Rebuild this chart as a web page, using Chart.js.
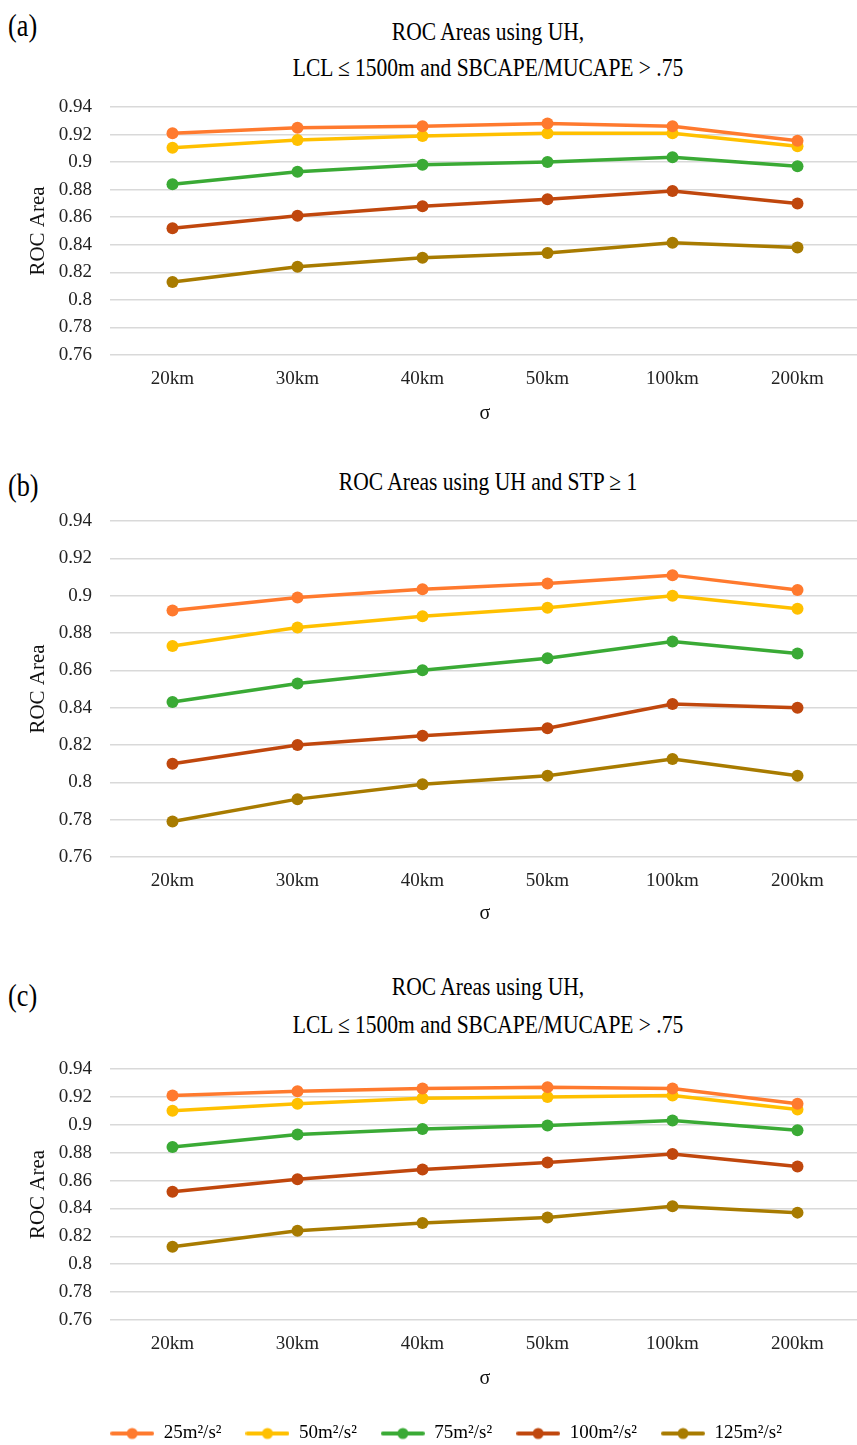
<!DOCTYPE html>
<html><head><meta charset="utf-8">
<script src="https://cdn.jsdelivr.net/npm/chart.js@4.4.1/dist/chart.umd.min.js"></script>
<style>
html,body{margin:0;padding:0;overflow:hidden;background:#fff;}
#page{position:relative;width:857px;height:1445px;overflow:hidden;font-family:'Liberation Serif','Times New Roman',serif;color:#000;}
.lab{position:absolute;left:8px;font-size:32px;line-height:36px;transform:scaleX(0.82);transform-origin:left center;}
.ttl{position:absolute;left:110px;width:756px;text-align:center;font-size:25px;transform:scaleX(0.86);transform-origin:center center;}
.box{position:absolute;left:26px;width:840px;}
</style></head><body><div id="page">
<div class="lab" style="top:7px">(a)</div>
<div class="ttl" style="top:14px;line-height:36px">ROC Areas using UH,<br>LCL ≤ 1500m and SBCAPE/MUCAPE &gt; .75</div>
<div class="box" style="top:87px;height:341px"><canvas id="ca"></canvas></div>
<div class="lab" style="top:467px">(b)</div>
<div class="ttl" style="top:464px;line-height:36px">ROC Areas using UH and STP ≥ 1</div>
<div class="box" style="top:501px;height:427px"><canvas id="cb"></canvas></div>
<div class="lab" style="top:977px">(c)</div>
<div class="ttl" style="top:968px;line-height:38px">ROC Areas using UH,<br>LCL ≤ 1500m and SBCAPE/MUCAPE &gt; .75</div>
<div class="box" style="top:1049px;height:404px"><canvas id="cc"></canvas></div>
</div>
<script>
const categories = ['20km','30km','40km','50km','100km','200km'];
const seriesNames = ['25m²/s²','50m²/s²','75m²/s²','100m²/s²','125m²/s²'];
const seriesColors = ['#FF7A2E','#FFC000','#3AAA35','#C0470D','#A87B00'];
const yTicksMin = 0.76, yTicksMax = 0.94, yTicksStep = 0.02;

// Panel (a)
const a25  = [0.921, 0.925, 0.926, 0.928, 0.926, 0.9155];
const a50  = [0.9105, 0.916, 0.919, 0.921, 0.921, 0.9115];
const a75  = [0.884, 0.893, 0.898, 0.900, 0.9035, 0.897];
const a100 = [0.852, 0.861, 0.868, 0.873, 0.879, 0.870];
const a125 = [0.813, 0.824, 0.8305, 0.834, 0.8415, 0.838];
// Panel (b)
const b25  = [0.892, 0.899, 0.9035, 0.9065, 0.911, 0.903];
const b50  = [0.873, 0.883, 0.889, 0.8935, 0.900, 0.893];
const b75  = [0.843, 0.853, 0.860, 0.8665, 0.8755, 0.869];
const b100 = [0.810, 0.820, 0.825, 0.829, 0.842, 0.840];
const b125 = [0.779, 0.791, 0.799, 0.8035, 0.8125, 0.8035];
// Panel (c)
const c25  = [0.921, 0.924, 0.926, 0.927, 0.926, 0.915];
const c50  = [0.910, 0.915, 0.919, 0.920, 0.921, 0.911];
const c75  = [0.884, 0.893, 0.897, 0.8995, 0.903, 0.896];
const c100 = [0.852, 0.861, 0.868, 0.873, 0.879, 0.870];
const c125 = [0.8125, 0.824, 0.8295, 0.8335, 0.8415, 0.837];

Chart.defaults.font.family = "'Liberation Serif','Times New Roman',serif";
Chart.defaults.color = '#222';

function legendIcon(color){
  const c = document.createElement('canvas');
  c.width = 44; c.height = 14;
  const x = c.getContext('2d');
  x.strokeStyle = color; x.lineWidth = 4; x.lineCap = 'round';
  x.beginPath(); x.moveTo(2,7); x.lineTo(42,7); x.stroke();
  x.fillStyle = color; x.beginPath(); x.arc(22,7,5.5,0,Math.PI*2); x.fill();
  return c;
}

function makeChart(id, series, cfg){
  const datasets = series.map((vals,i)=>({
    label: seriesNames[i],
    data: vals,
    borderColor: seriesColors[i],
    backgroundColor: seriesColors[i],
    borderWidth: 3.5,
    pointRadius: 6,
    pointBorderWidth: 0,
    pointBackgroundColor: seriesColors[i],
    tension: 0
  }));
  return new Chart(document.getElementById(id), {
    type: 'line',
    data: { labels: categories, datasets },
    options: {
      responsive: true, maintainAspectRatio: false, animation: false,
      devicePixelRatio: 1,
      layout: { padding: { top: 20, left: 0, right: 0, bottom: 0 } },
      plugins: {
        tooltip: { enabled: false },
        legend: cfg.legend ? {
          display: true, position: 'bottom',
          labels: {
            usePointStyle: true, pointStyleWidth: 44, padding: 24,
            color: '#111', font: { size: 19 },
            generateLabels: (chart) => chart.data.datasets.map((d,i)=>({
              text: d.label, pointStyle: legendIcon(seriesColors[i]),
              fillStyle: seriesColors[i], strokeStyle: seriesColors[i],
              lineWidth: 0, datasetIndex: i, hidden: false
            }))
          }
        } : { display: false }
      },
      scales: {
        x: {
          offset: true,
          grid: { display: false, drawTicks: false },
          border: { display: false },
          ticks: { padding: 13, color: '#222', font: { size: 19 } },
          title: { display: true, text: 'σ', color: '#111', font: { size: 20 },
                   padding: { top: 0, bottom: cfg.xTitleBottom } },
          afterFit: s => { s.height = cfg.xAxisH; }
        },
        y: {
          min: yTicksMin, max: yTicksMax,
          grid: { color: '#d9d9d9', lineWidth: 1.5, drawTicks: false },
          border: { display: false },
          ticks: { stepSize: yTicksStep, autoSkip: false, padding: 18, color: '#222', font: { size: 19 },
                   callback: v => String(Number(v.toFixed(2))) },
          title: { display: true, text: 'ROC Area', color: '#111', font: { size: 21 },
                   padding: { top: 0, bottom: 0 } },
          afterFit: s => { s.width = 84; s.paddingTop = 0; s.paddingBottom = 0; }
        }
      }
    }
  });
}

makeChart('ca', [a25,a50,a75,a100,a125], { legend: false, xAxisH: 73, xTitleBottom: 2 });
makeChart('cb', [b25,b50,b75,b100,b125], { legend: false, xAxisH: 71, xTitleBottom: 2 });
makeChart('cc', [c25,c50,c75,c100,c125], { legend: true, xAxisH: 80, xTitleBottom: 9 });
</script>
</body></html>
